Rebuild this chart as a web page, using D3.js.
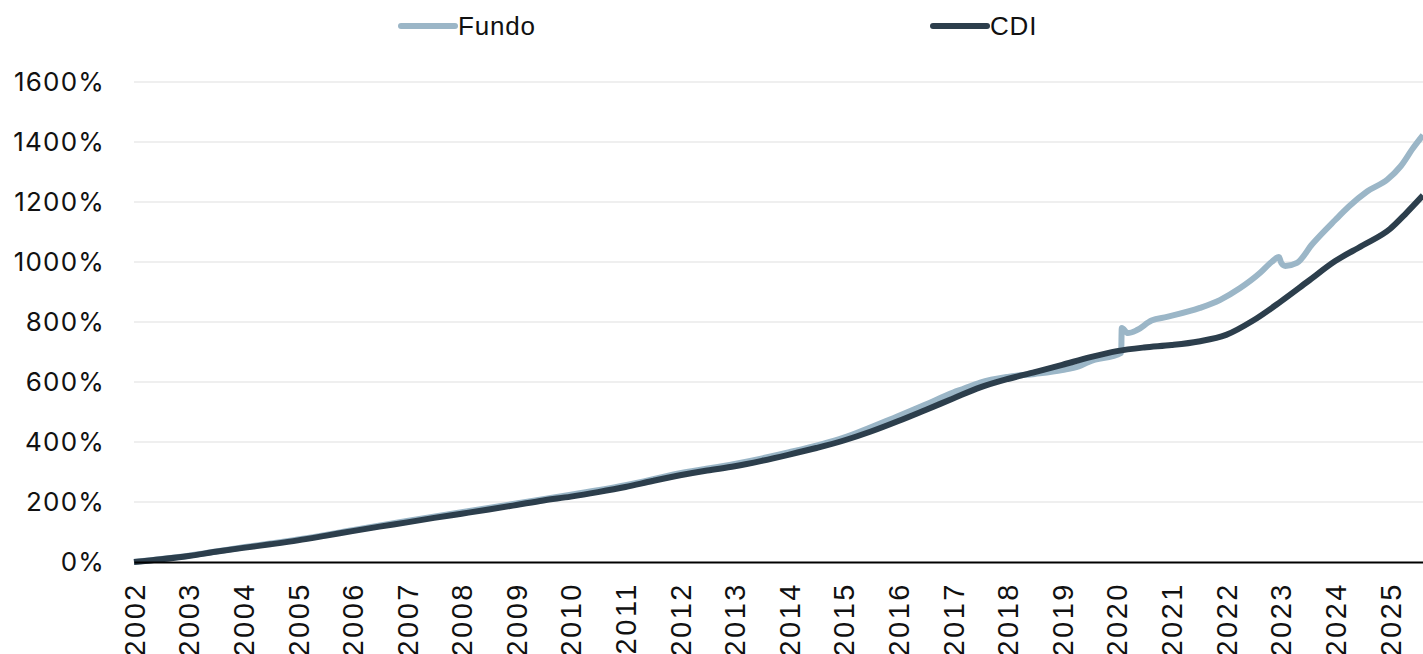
<!DOCTYPE html>
<html>
<head>
<meta charset="utf-8">
<script src="https://cdn.jsdelivr.net/npm/d3@7"></script>
<style>
  body { margin: 0; background: #fff; }
</style>
</head>
<body>
<script>
const width = 1423;
const height = 654;
const margin = ({top: 82, right: 0, bottom: 92, left: 134});

// CDI acumulado (%)
const cdiDates = ["2002-01-01","2002-07-01","2003-01-01","2003-07-01","2004-01-01","2004-07-01",
  "2005-01-01","2005-07-01","2006-01-01","2006-07-01","2007-01-01","2007-07-01","2008-01-01",
  "2008-07-01","2009-01-01","2009-07-01","2010-01-01","2010-07-01","2011-01-01","2011-07-01",
  "2012-01-01","2012-07-01","2013-01-01","2013-07-01","2014-01-01","2014-07-01","2015-01-01",
  "2015-07-01","2016-01-01","2016-07-01","2017-01-01","2017-07-01","2018-01-01","2018-07-01",
  "2019-01-01","2019-07-01","2020-01-01","2020-07-01","2021-01-01","2021-07-01","2022-01-01",
  "2022-07-01","2023-01-01","2023-07-01","2024-01-01","2024-07-01","2025-01-01","2025-04-20",
  "2025-08-10"];
const cdiValues = [0,9,20,34,47,59,72,87,103,118,132,147,161,175,190,205,218,233,250,270,
  289,305,319,337,358,380,405,435,470,507,545,582,610,633,657,682,703,715,723,735,757,
  805,868,935,1003,1055,1110,1163,1222];

// Fundo acumulado (%)
const fundoDates = ["2002-01-01","2003-01-01","2004-01-01","2005-01-01","2006-01-01","2007-01-01",
  "2008-01-01","2009-01-01","2010-01-01","2011-01-01","2012-01-01","2013-01-01","2014-01-01",
  "2015-01-01","2016-01-01","2016-07-01","2017-01-01","2017-03-15","2017-07-01","2018-01-01",
  "2018-07-01","2019-01-01","2019-04-20","2019-07-01","2020-01-30","2020-02-03","2020-03-15",
  "2020-05-15","2020-08-20","2020-12-01","2021-07-10","2021-11-20","2022-04-05","2022-08-15",
  "2022-11-01","2022-12-20","2023-01-05","2023-02-01","2023-04-20","2023-08-01","2024-01-01",
  "2024-04-01","2024-08-01","2024-12-15","2025-03-15","2025-06-05","2025-08-10"];
const fundoValues = [0,21,49,75,106,137,166,195,224,256,296,327,366,415,487,525,565,578,598,617,
  627,640,652,668,697,780,763,773,805,817,847,873,913,963,1000,1017,997,987,997,1060,1140,
  1185,1235,1275,1320,1380,1423];

const yTicks = [0,200,400,600,800,1000,1200,1400,1600];
const seriesNames = ["Fundo","CDI"];
const seriesColors = ["#9bb6c7","#2c3e4c"];

const parse = d3.timeParse("%Y-%m-%d");
const cdi = cdiDates.map((d, i) => ({date: parse(d), value: cdiValues[i]}));
const fundo = fundoDates.map((d, i) => ({date: parse(d), value: fundoValues[i]}));

const xScale = d3.scaleTime()
                 .domain([parse("2002-01-01"), parse("2025-08-10")])
                 .range([margin.left, width - margin.right]);
const yScale = d3.scaleLinear()
                 .domain([0, 1600])
                 .range([height - margin.bottom, margin.top]);

const svg = d3.select("body").append("svg")
              .attr("width", width)
              .attr("height", height);

// gridlines
svg.append("g")
   .selectAll("line")
   .data(yTicks.slice(1))
   .enter()
   .append("line")
   .attr("x1", margin.left)
   .attr("x2", width - margin.right)
   .attr("y1", d => yScale(d))
   .attr("y2", d => yScale(d))
   .attr("stroke", "#efefef")
   .attr("stroke-width", 2);

// y axis labels
const yAxis = d3.axisLeft(yScale)
                .tickValues(yTicks)
                .tickSize(0)
                .tickPadding(0)
                .tickFormat(d => d + "%");
svg.append("g")
   .attr("transform", "translate(105,0)")
   .call(yAxis)
   .call(g => g.select(".domain").remove())
   .selectAll("text")
   .attr("font-family", "Inter, 'Noto Sans', sans-serif")
   .attr("font-size", 26)
   .attr("letter-spacing", 1.2)
   .attr("fill", "#111");

// lines
const line = d3.line()
               .x(d => xScale(d.date))
               .y(d => yScale(d.value))
               .curve(d3.curveMonotoneX);

svg.append("path")
   .datum(fundo)
   .attr("fill", "none")
   .attr("stroke", seriesColors[0])
   .attr("stroke-width", 6)
   .attr("stroke-linejoin", "round")
   .attr("d", line);

svg.append("path")
   .datum(cdi)
   .attr("fill", "none")
   .attr("stroke", seriesColors[1])
   .attr("stroke-width", 6)
   .attr("stroke-linejoin", "round")
   .attr("d", line);

// x axis
const xAxis = d3.axisBottom(xScale)
                .ticks(d3.timeYear.every(1))
                .tickSize(0)
                .tickSizeOuter(0)
                .tickFormat(d3.timeFormat("%Y"));
svg.append("g")
   .attr("transform", "translate(0," + yScale(0) + ")")
   .call(xAxis)
   .call(g => g.select(".domain").attr("stroke", "#000").attr("stroke-width", 2))
   .selectAll("text")
   .attr("transform", "rotate(-90)")
   .attr("x", -20)
   .attr("y", 0)
   .attr("dy", "0.35em")
   .attr("text-anchor", "end")
   .attr("font-family", "'Liberation Sans', Arial, sans-serif")
   .attr("font-size", 29)
   .attr("letter-spacing", 2.5)
   .attr("fill", "#111");

// legend
const legendX = [401, 933];
const legend = svg.append("g")
                  .selectAll("g")
                  .data(seriesNames)
                  .enter()
                  .append("g")
                  .attr("transform", (d, i) => "translate(" + legendX[i] + ",26)");
legend.append("line")
      .attr("x1", 0)
      .attr("x2", 54)
      .attr("stroke", (d, i) => seriesColors[i])
      .attr("stroke-width", 6)
      .attr("stroke-linecap", "round");
legend.append("text")
      .attr("x", 57)
      .attr("y", 9)
      .attr("font-family", "'Liberation Sans', Arial, sans-serif")
      .attr("font-size", 26)
      .attr("letter-spacing", 0.8)
      .attr("fill", "#111")
      .text(d => d);
</script>
</body>
</html>
